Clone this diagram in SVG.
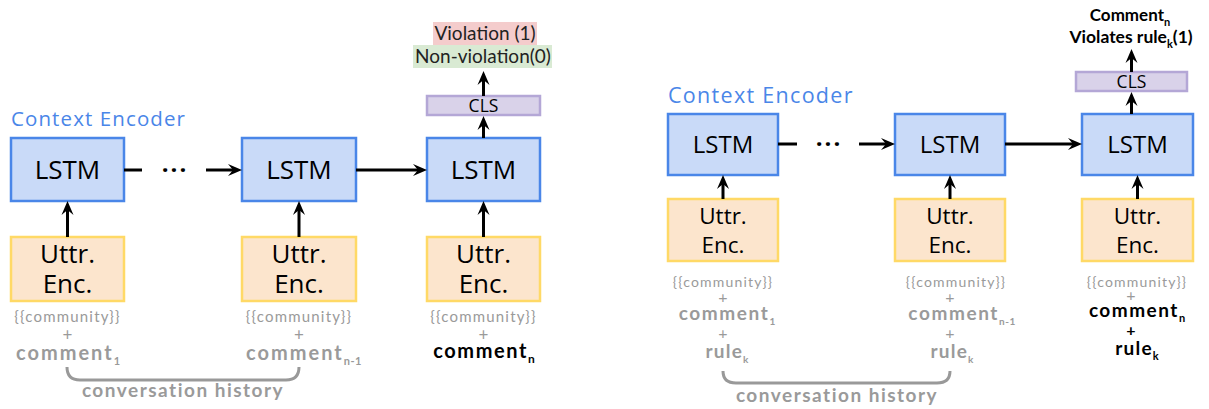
<svg xmlns="http://www.w3.org/2000/svg" width="1209" height="409" viewBox="0 0 1209 409">
<defs>
<style>
.lstm{fill:#c9daf8;stroke:#4a86e8;stroke-width:2.5}
.utt{fill:#fce5cd;stroke:#ffd966;stroke-width:2.5}
.cls{fill:#d9d2e9;stroke:#b4a7d6;stroke-width:2.5}
.box{font-family:"Open Sans","Liberation Sans",sans-serif;fill:#000;text-anchor:middle}
.ce{font-family:"Open Sans","Liberation Sans",sans-serif;fill:#4a86e8}
.g{font-family:Lato,"Liberation Sans",sans-serif;fill:#9a9a9a;text-anchor:middle}
.b{font-family:Lato,"Liberation Sans",sans-serif;fill:#000;text-anchor:middle;font-weight:bold}
.lbl{font-family:Lato,"Liberation Sans",sans-serif;fill:#222;text-anchor:middle}
.c{stroke:#000;stroke-width:3;fill:none}
.ca{stroke:#000;stroke-width:3;fill:none;marker-end:url(#ah)}
.brace{stroke:#999;stroke-width:3;fill:none}
.dots{font-family:"Open Sans","Liberation Sans",sans-serif;fill:#000;font-size:24px;font-weight:bold;text-anchor:middle;letter-spacing:2px}
</style>
<marker id="ah" markerUnits="userSpaceOnUse" markerWidth="16" markerHeight="14" refX="6" refY="6" orient="auto" overflow="visible">
<path d="M0,0 L14,6 L0,12 L5,6 Z" fill="#000"/>
</marker>
</defs>
<rect width="1209" height="409" fill="#fff"/>

<!-- Left diagram -->
<text class="ce" x="11" y="126" font-size="20.5" letter-spacing="1.1">Context Encoder</text>

<g id="out-left">
<rect x="433" y="22" width="104" height="23" fill="#f4cccc"/>
<rect x="413" y="45" width="139" height="23" fill="#d9ead3"/>
<text class="lbl" x="485" y="40" font-size="19">Violation (1)</text>
<text class="lbl" x="483" y="63" font-size="19">Non-violation(0)</text>
</g>
<g id="cls-left">
<rect class="cls" x="427" y="96" width="113" height="19"/>
<text class="box" x="483.5" y="112" font-size="17.5">CLS</text>
</g>
<g id="lstm-l1">
<rect class="lstm" x="11" y="138" width="113" height="63"/>
<text class="box" x="67.5" y="179" font-size="26">LSTM</text>
</g>
<g id="lstm-l2">
<rect class="lstm" x="242" y="138" width="114" height="63"/>
<text class="box" x="299" y="179" font-size="26">LSTM</text>
</g>
<g id="lstm-l3">
<rect class="lstm" x="427" y="138" width="113" height="63"/>
<text class="box" x="483.5" y="179" font-size="26">LSTM</text>
</g>
<g id="utt-l1">
<rect class="utt" x="11" y="237" width="113" height="64"/>
<text class="box" x="67.5" y="263" font-size="26">Uttr.</text>
<text class="box" x="67.5" y="293" font-size="26">Enc.</text>
</g>
<g id="utt-l2">
<rect class="utt" x="242" y="237" width="114" height="64"/>
<text class="box" x="299" y="263" font-size="26">Uttr.</text>
<text class="box" x="299" y="293" font-size="26">Enc.</text>
</g>
<g id="utt-l3">
<rect class="utt" x="427" y="237" width="113" height="64"/>
<text class="box" x="483.5" y="263" font-size="26">Uttr.</text>
<text class="box" x="483.5" y="293" font-size="26">Enc.</text>
</g>
<g id="in-l1">
<text class="g" x="67.5" y="322" font-size="15" letter-spacing="1.2">{{community}}</text>
<text class="g" x="67.5" y="341" font-size="17">+</text>
<text class="g" x="68" y="360" font-size="20" font-weight="bold" letter-spacing="2">comment<tspan font-size="11" dy="5" letter-spacing="0">1</tspan></text>
</g>
<g id="in-l2">
<text class="g" x="299" y="322" font-size="15" letter-spacing="1.2">{{community}}</text>
<text class="g" x="299" y="341" font-size="17">+</text>
<text class="g" x="304" y="360" font-size="20" font-weight="bold" letter-spacing="2">comment<tspan font-size="11" dy="5" letter-spacing="0.5">n-1</tspan></text>
</g>
<g id="in-l3">
<text class="g" x="483.5" y="322" font-size="15" letter-spacing="1.2">{{community}}</text>
<text class="g" x="483.5" y="341" font-size="17">+</text>
<text class="b" x="484" y="358" font-size="20" letter-spacing="1.6">comment<tspan font-size="12" dy="5" letter-spacing="0">n</tspan></text>
</g>
<g id="hist-left">
<path class="brace" d="M67,367 Q67,380 80,380 L286,380 Q299,380 299,367"/>
<text class="g" x="183" y="397" font-size="19" font-weight="bold" letter-spacing="1.5">conversation history</text>
</g>

<!-- Right diagram -->
<text class="ce" x="668" y="103" font-size="21.5" letter-spacing="1.3">Context Encoder</text>

<g id="out-right">
<text class="b" x="1130" y="21" font-size="17">Comment<tspan font-size="11" dy="5">n</tspan></text>
<text class="b" x="1131" y="43" font-size="17.5">Violates rule<tspan font-size="11" dy="5">k</tspan><tspan dy="-5">(1)</tspan></text>
</g>
<g id="cls-right">
<rect class="cls" x="1076" y="72" width="111" height="19"/>
<text class="box" x="1131.5" y="88" font-size="17.5">CLS</text>
</g>
<g id="lstm-r1">
<rect class="lstm" x="668" y="114" width="110" height="61"/>
<text class="box" x="723" y="153" font-size="24">LSTM</text>
</g>
<g id="lstm-r2">
<rect class="lstm" x="895" y="114" width="110" height="61"/>
<text class="box" x="950" y="153" font-size="24">LSTM</text>
</g>
<g id="lstm-r3">
<rect class="lstm" x="1082" y="114" width="111" height="61"/>
<text class="box" x="1137.5" y="153" font-size="24">LSTM</text>
</g>
<g id="utt-r1">
<rect class="utt" x="668" y="199" width="110" height="62"/>
<text class="box" x="723" y="224" font-size="22.5">Uttr.</text>
<text class="box" x="723" y="253" font-size="22.5">Enc.</text>
</g>
<g id="utt-r2">
<rect class="utt" x="895" y="199" width="110" height="62"/>
<text class="box" x="950" y="224" font-size="22.5">Uttr.</text>
<text class="box" x="950" y="253" font-size="22.5">Enc.</text>
</g>
<g id="utt-r3">
<rect class="utt" x="1082" y="199" width="111" height="62"/>
<text class="box" x="1137.5" y="224" font-size="22.5">Uttr.</text>
<text class="box" x="1137.5" y="253" font-size="22.5">Enc.</text>
</g>
<g id="in-r1">
<text class="g" x="723" y="287" font-size="14" letter-spacing="1.2">{{community}}</text>
<text class="g" x="723" y="303" font-size="16">+</text>
<text class="g" x="727" y="320" font-size="19" font-weight="bold" letter-spacing="1.6">comment<tspan font-size="10" dy="5" letter-spacing="0">1</tspan></text>
<text class="g" x="723" y="339" font-size="16">+</text>
<text class="g" x="727" y="358" font-size="19" font-weight="bold" letter-spacing="1.2">rule<tspan font-size="10" dy="5" letter-spacing="0">k</tspan></text>
</g>
<g id="in-r2">
<text class="g" x="956" y="287" font-size="14" letter-spacing="1.2">{{community}}</text>
<text class="g" x="950" y="303" font-size="16">+</text>
<text class="g" x="962" y="320" font-size="19" font-weight="bold" letter-spacing="1.6">comment<tspan font-size="10" dy="5" letter-spacing="0.5">n-1</tspan></text>
<text class="g" x="950" y="339" font-size="16">+</text>
<text class="g" x="952" y="358" font-size="19" font-weight="bold" letter-spacing="1.2">rule<tspan font-size="10" dy="5" letter-spacing="0">k</tspan></text>
</g>
<g id="in-r3">
<text class="g" x="1137" y="287" font-size="14" letter-spacing="1.2">{{community}}</text>
<text class="g" x="1131" y="301" font-size="16">+</text>
<text class="b" x="1137" y="317" font-size="19" letter-spacing="1.5">comment<tspan font-size="11" dy="5" letter-spacing="0">n</tspan></text>
<text class="b" x="1131" y="336" font-size="16" font-weight="normal">+</text>
<text class="b" x="1137" y="355" font-size="19" letter-spacing="1.2">rule<tspan font-size="11" dy="5" letter-spacing="0">k</tspan></text>
</g>
<g id="hist-right">
<path class="brace" d="M723,371 Q723,383 736,383 L937,383 Q950,383 950,371"/>
<text class="g" x="837" y="402" font-size="19" font-weight="bold" letter-spacing="1.5">conversation history</text>
</g>

<!-- Connectors -->
<g id="connectors">
<line class="c" x1="124" y1="170" x2="142" y2="170"/>
<text class="dots" x="175" y="178">···</text>
<line class="ca" x1="206" y1="170" x2="234" y2="170"/>
<line class="ca" x1="356" y1="170" x2="419" y2="170"/>
<line class="ca" x1="67.5" y1="237" x2="67.5" y2="209"/>
<line class="ca" x1="299" y1="237" x2="299" y2="209"/>
<line class="ca" x1="483.5" y1="237" x2="483.5" y2="209"/>
<line class="ca" x1="483.5" y1="138" x2="483.5" y2="124"/>
<line class="ca" x1="483.5" y1="96" x2="483.5" y2="79"/>

<line class="c" x1="778" y1="144" x2="797" y2="144"/>
<text class="dots" x="829" y="152">···</text>
<line class="ca" x1="859" y1="144" x2="887" y2="144"/>
<line class="ca" x1="1005" y1="144" x2="1074" y2="144"/>
<line class="ca" x1="723" y1="199" x2="723" y2="183"/>
<line class="ca" x1="950" y1="199" x2="950" y2="183"/>
<line class="ca" x1="1137.5" y1="199" x2="1137.5" y2="183"/>
<line class="ca" x1="1131.5" y1="114" x2="1131.5" y2="100"/>
<line class="ca" x1="1131.5" y1="72" x2="1131.5" y2="57"/>
</g>
</svg>
